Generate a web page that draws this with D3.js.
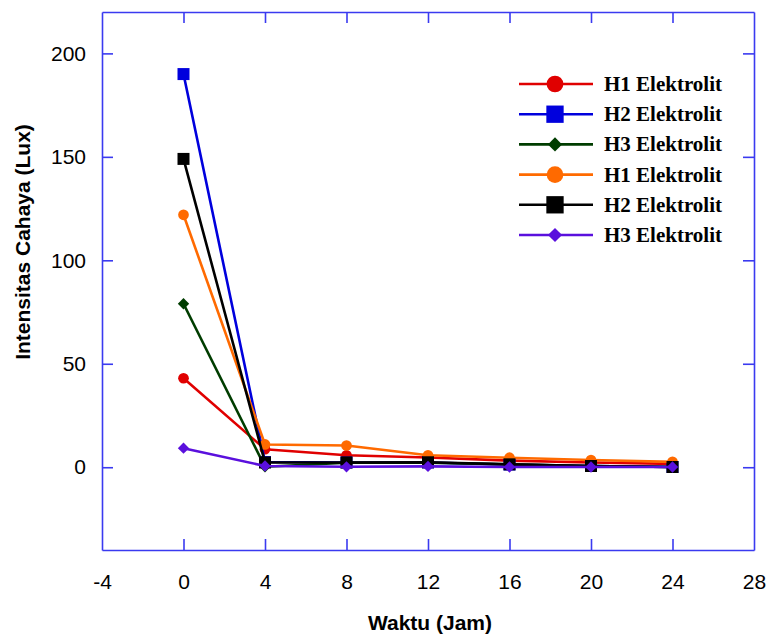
<!DOCTYPE html>
<html>

<head>
    <meta charset=utf-8 />
    <script src="https://cdn.jsdelivr.net/npm/d3@7"></script>
    <title>Intensitas Cahaya</title>
    <style>
        html,
        body {
            margin: 0;
            padding: 0;
            background: #fff;
        }

        svg {
            display: block;
        }
    </style>
</head>

<body>
    <div id="svg-canvas"></div>
    <script>
        // data
        var waktu = [0, 4, 8, 12, 16, 20, 24];
        var names = ['H1 Elektrolit', 'H2 Elektrolit', 'H3 Elektrolit', 'H1 Elektrolit', 'H2 Elektrolit', 'H3 Elektrolit'];
        var colors = ['#e00000', '#0000dd', '#003d00', '#ff6a00', '#000000', '#5a10dd'];
        var shapes = ['circle', 'square', 'diamond', 'circle', 'square', 'diamond'];
        var h1a = [43, 8.7, 5.8, 4.7, 3.2, 2.3, 1.6];
        var h2a = [190, 2.5, 2.3, 2.3, 1.3, 0.6, 0.1];
        var h3a = [79, 0.2, 2.2, 2.2, 1.4, 0.6, 0.1];
        var h1b = [122, 11, 10.5, 5.8, 4.6, 3.5, 2.6];
        var h2b = [149, 2.3, 2.3, 2.4, 1.4, 0.6, 0.1];
        var h3b = [9.2, 0.6, 0.2, 0.4, 0.1, 0.1, 0.1];
        var series = [h1a, h2a, h3a, h1b, h2b, h3b];
        var xTicks = [-4, 0, 4, 8, 12, 16, 20, 24, 28];
        var yTicks = [0, 50, 100, 150, 200];
    </script>
    <script>
        var W = 769, H = 634;
        var mLeft = 102, mRight = 754, mTop = 12, mBottom = 550;
        var frameColor = '#3a3af0';
        var sans = 'Liberation Sans, Arial, sans-serif';

        var svg = d3.select('#svg-canvas').append('svg')
            .attr('width', W)
            .attr('height', H);

        var x = d3.scaleLinear().domain([-4, 28]).range([mLeft, mRight]);
        var y = d3.scaleLinear().domain([-40, 220]).range([mBottom, mTop]);

        function styleAxis(g) {
            g.selectAll('path, line').attr('stroke', frameColor).attr('stroke-width', 1.6);
            g.selectAll('text')
                .attr('font-family', sans)
                .attr('font-size', 21)
                .attr('fill', '#000');
        }

        function dropEnds(g) {
            g.selectAll('.tick').filter(d => d === -4 || d === 28).select('line').remove();
        }

        // bottom axis
        svg.append('g')
            .attr('transform', 'translate(0,' + mBottom + ')')
            .call(d3.axisBottom(x).tickValues(xTicks).tickFormat(d => String(d))
                .tickSizeInner(-11).tickSizeOuter(0).tickPadding(24))
            .call(styleAxis)
            .call(dropEnds);

        // top axis
        svg.append('g')
            .attr('transform', 'translate(0,' + mTop + ')')
            .call(d3.axisTop(x).tickValues(xTicks).tickSizeInner(-11).tickSizeOuter(0).tickFormat(''))
            .call(styleAxis)
            .call(dropEnds);

        // left axis
        svg.append('g')
            .attr('transform', 'translate(' + mLeft + ',0)')
            .call(d3.axisLeft(y).tickValues(yTicks).tickFormat(d => String(d))
                .tickSizeInner(-11).tickSizeOuter(0).tickPadding(16))
            .call(styleAxis);

        // right axis
        svg.append('g')
            .attr('transform', 'translate(' + mRight + ',0)')
            .call(d3.axisRight(y).tickValues(yTicks).tickSizeInner(-11).tickSizeOuter(0).tickFormat(''))
            .call(styleAxis);

        // axis titles
        svg.append('text')
            .attr('x', (mLeft + mRight) / 2 + 2)
            .attr('y', 630)
            .attr('text-anchor', 'middle')
            .attr('font-family', sans)
            .attr('font-weight', 'bold')
            .attr('font-size', 21)
            .text('Waktu (Jam)');

        svg.append('text')
            .attr('transform', 'translate(30,242) rotate(-90)')
            .attr('text-anchor', 'middle')
            .attr('font-family', sans)
            .attr('font-weight', 'bold')
            .attr('font-size', 21)
            .text('Intensitas Cahaya (Lux)');

        var symbolType = {
            circle: d3.symbolCircle,
            square: d3.symbolSquare,
            diamond: d3.symbolSquare
        };
        var symbolRot = { circle: 0, square: 0, diamond: 45 };
        var symbolSize = { circle: 90, square: 144, diamond: 64 };

        var line = d3.line()
            .x((d, i) => x(waktu[i]))
            .y(d => y(d));

        var plot = svg.append('g');

        series.forEach(function (vals, s) {
            var g = plot.append('g');
            g.append('path')
                .attr('d', line(vals))
                .attr('fill', 'none')
                .attr('stroke', colors[s])
                .attr('stroke-width', 2.6)
                .attr('stroke-linejoin', 'round');

            g.selectAll('path.mark')
                .data(vals)
                .enter().append('path')
                .attr('class', 'mark')
                .attr('transform', (d, i) => 'translate(' + x(waktu[i]) + ',' + y(d) + ') rotate(' + symbolRot[shapes[s]] + ')')
                .attr('d', d3.symbol().type(symbolType[shapes[s]]).size(symbolSize[shapes[s]]))
                .attr('fill', colors[s]);
        });

        // legend
        var legend = svg.append('g');
        var legendSize = { circle: 220, square: 300, diamond: 100 };
        names.forEach(function (name, s) {
            var ly = 84 + s * 30.2;
            legend.append('line')
                .attr('x1', 519).attr('x2', 593)
                .attr('y1', ly).attr('y2', ly)
                .attr('stroke', colors[s])
                .attr('stroke-width', 2.6);
            legend.append('path')
                .attr('transform', 'translate(555,' + ly + ') rotate(' + symbolRot[shapes[s]] + ')')
                .attr('d', d3.symbol().type(symbolType[shapes[s]]).size(legendSize[shapes[s]]))
                .attr('fill', colors[s]);
            legend.append('text')
                .attr('x', 604)
                .attr('y', ly + 7)
                .attr('font-family', 'Liberation Serif, Times New Roman, serif')
                .attr('font-weight', 'bold')
                .attr('font-size', 21)
                .attr('fill', '#000')
                .text(name);
        });
    </script>
</body>

</html>
